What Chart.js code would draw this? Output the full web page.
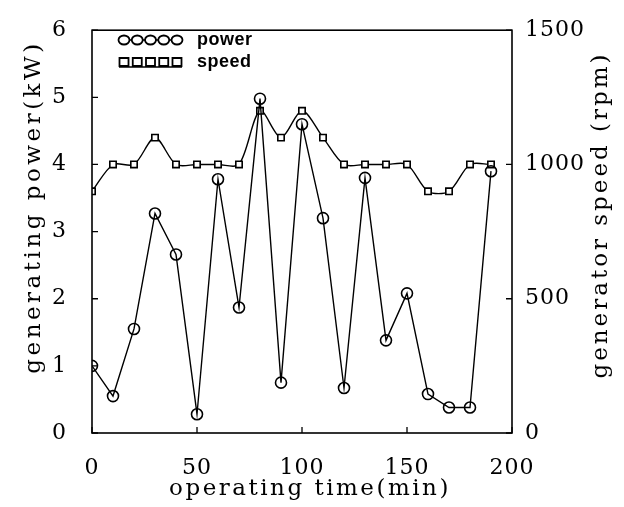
<!DOCTYPE html>
<html>
<head>
<meta charset="utf-8">
<script src="https://cdn.jsdelivr.net/npm/chart.js@4"></script>
<style>
html, body { margin: 0; padding: 0; background: #fff; }
#wrap { width: 624px; height: 507px; }
</style>
</head>
<body>
<div id="wrap"><canvas id="c" width="624" height="507"></canvas></div>
<script>
// operating time (min)
var times = [0, 10, 20, 30, 40, 50, 60, 70, 80, 90, 100, 110, 120, 130, 140, 150, 160, 170, 180, 190];
// generating power (kW)
var power = [1.0, 0.55, 1.55, 3.27, 2.66, 0.28, 3.78, 1.87, 4.98, 0.75, 4.6, 3.2, 0.67, 3.8, 1.38, 2.08, 0.58, 0.38, 0.38, 3.9];
// generator speed (rpm)
var speed = [900, 1000, 1000, 1100, 1000, 1000, 1000, 1000, 1200, 1100, 1200, 1100, 1000, 1000, 1000, 1000, 900, 900, 1000, 1000];
var xTicks = [0, 50, 100, 150, 200];
var leftTicks = [0, 1, 2, 3, 4, 5, 6];
var rightTicks = [0, 500, 1000, 1500];

function pts(ys) {
	return times.map(function (t, i) { return { x: t, y: ys[i] }; });
}

var serif = '"DejaVu Serif", "Liberation Serif", serif';
var sans = '"Liberation Sans", Arial, sans-serif';

// frame, inward tick marks, spaced axis titles and the legend
var decor = {
	id: 'decor',
	beforeDraw: function (chart) {
		chart.ctx.letterSpacing = '1px';
	},
	afterDraw: function (chart) {
		var ctx = chart.ctx, a = chart.chartArea;
		var sx = chart.scales.x, sl = chart.scales.y, sr = chart.scales.y2;
		ctx.save();
		ctx.strokeStyle = '#000';
		ctx.lineWidth = 1.6;
		ctx.strokeRect(a.left, a.top, a.right - a.left, a.bottom - a.top);
		ctx.lineWidth = 1.3;
		ctx.beginPath();
		xTicks.forEach(function (v) {
			var p = sx.getPixelForValue(v);
			ctx.moveTo(p, a.bottom); ctx.lineTo(p, a.bottom - 6);
		});
		leftTicks.forEach(function (v) {
			var p = sl.getPixelForValue(v);
			ctx.moveTo(a.left, p); ctx.lineTo(a.left + 6, p);
		});
		rightTicks.forEach(function (v) {
			var p = sr.getPixelForValue(v);
			ctx.moveTo(a.right, p); ctx.lineTo(a.right - 6, p);
		});
		ctx.stroke();

		// axis titles
		ctx.fillStyle = '#000';
		ctx.font = '23px ' + serif;
		ctx.letterSpacing = '2.5px';
		ctx.textAlign = 'center';
		ctx.textBaseline = 'middle';
		ctx.fillText('operating time(min)', 310, 489);
		ctx.letterSpacing = '3.5px';
		ctx.save();
		ctx.translate(34, 207);
		ctx.rotate(-Math.PI / 2);
		ctx.fillText('generating power(kW)', 0, 0);
		ctx.restore();
		ctx.letterSpacing = '3px';
		ctx.save();
		ctx.translate(601, 215);
		ctx.rotate(-Math.PI / 2);
		ctx.fillText('generator speed (rpm)', 0, 0);
		ctx.restore();
		ctx.letterSpacing = '0px';

		// legend
		var lx0 = 124, lx1 = 177;
		var rows = [{ y: 40, label: 'power', shape: 'circle' }, { y: 62, label: 'speed', shape: 'square' }];
		rows.forEach(function (r) {
			ctx.lineWidth = 1.3;
			ctx.strokeStyle = '#000';
			var ly = r.shape === 'square' ? r.y + 5 : r.y;
			ctx.beginPath();
			ctx.moveTo(lx0 - 5, ly);
			ctx.lineTo(lx1 + 5, ly);
			ctx.stroke();
			for (var i = 0; i < 5; i++) {
				var cx = lx0 + i * (lx1 - lx0) / 4;
				ctx.beginPath();
				if (r.shape === 'circle') {
					ctx.ellipse(cx, r.y, 5.5, 4.5, 0, 0, Math.PI * 2);
				} else {
					ctx.rect(cx - 4.5, r.y - 4, 9, 8);
				}
				ctx.fillStyle = '#fff';
				ctx.fill();
				ctx.lineWidth = 1.8;
				ctx.stroke();
			}
			ctx.fillStyle = '#000';
			ctx.font = 'bold 18px ' + sans;
			ctx.letterSpacing = '0.5px';
			ctx.textAlign = 'left';
			ctx.fillText(r.label, 197, r.y);
		});
		ctx.restore();
	}
};

new Chart(document.getElementById('c'), {
	type: 'line',
	data: {
		datasets: [{
			label: 'power',
			data: pts(power),
			yAxisID: 'y',
			borderColor: '#000',
			borderWidth: 1.4,
			pointStyle: 'circle',
			pointRadius: 5.5,
			pointBorderWidth: 1.6,
			pointBackgroundColor: 'rgba(255,255,255,0)',
			pointBorderColor: '#000',
			tension: 0
		}, {
			label: 'speed',
			data: pts(speed),
			yAxisID: 'y2',
			borderColor: '#000',
			borderWidth: 1.4,
			pointStyle: 'rect',
			pointRadius: 4.5,
			pointBorderWidth: 1.6,
			pointBackgroundColor: '#fff',
			pointBorderColor: '#000',
			tension: 0.3
		}]
	},
	options: {
		responsive: false,
		animation: false,
		layout: { padding: { top: 17, left: 0, right: 0, bottom: 0 } },
		plugins: { legend: { display: false }, tooltip: { enabled: false } },
		scales: {
			x: {
				type: 'linear',
				min: 0, max: 200,
				afterBuildTicks: function (s) { s.ticks = xTicks.map(function (v) { return { value: v }; }); },
				afterFit: function (s) { s.height = 74; },
				grid: { display: false },
				border: { display: false },
				ticks: { color: '#000', font: { family: serif, size: 22 }, padding: 14, maxRotation: 0 }
			},
			y: {
				position: 'left',
				min: 0, max: 6,
				afterBuildTicks: function (s) { s.ticks = leftTicks.map(function (v) { return { value: v }; }); },
				afterFit: function (s) { s.width = 92; },
				grid: { display: false },
				border: { display: false },
				ticks: { color: '#000', font: { family: serif, size: 22 }, padding: 17 }
			},
			y2: {
				position: 'right',
				min: 0, max: 1500,
				afterBuildTicks: function (s) { s.ticks = rightTicks.map(function (v) { return { value: v }; }); },
				afterFit: function (s) { s.width = 112; },
				grid: { display: false },
				border: { display: false },
				ticks: {
					color: '#000', font: { family: serif, size: 22 }, padding: 5,
					callback: function (v) { return String(v); }
				}
			}
		}
	},
	plugins: [decor]
});
</script>
</body>
</html>
